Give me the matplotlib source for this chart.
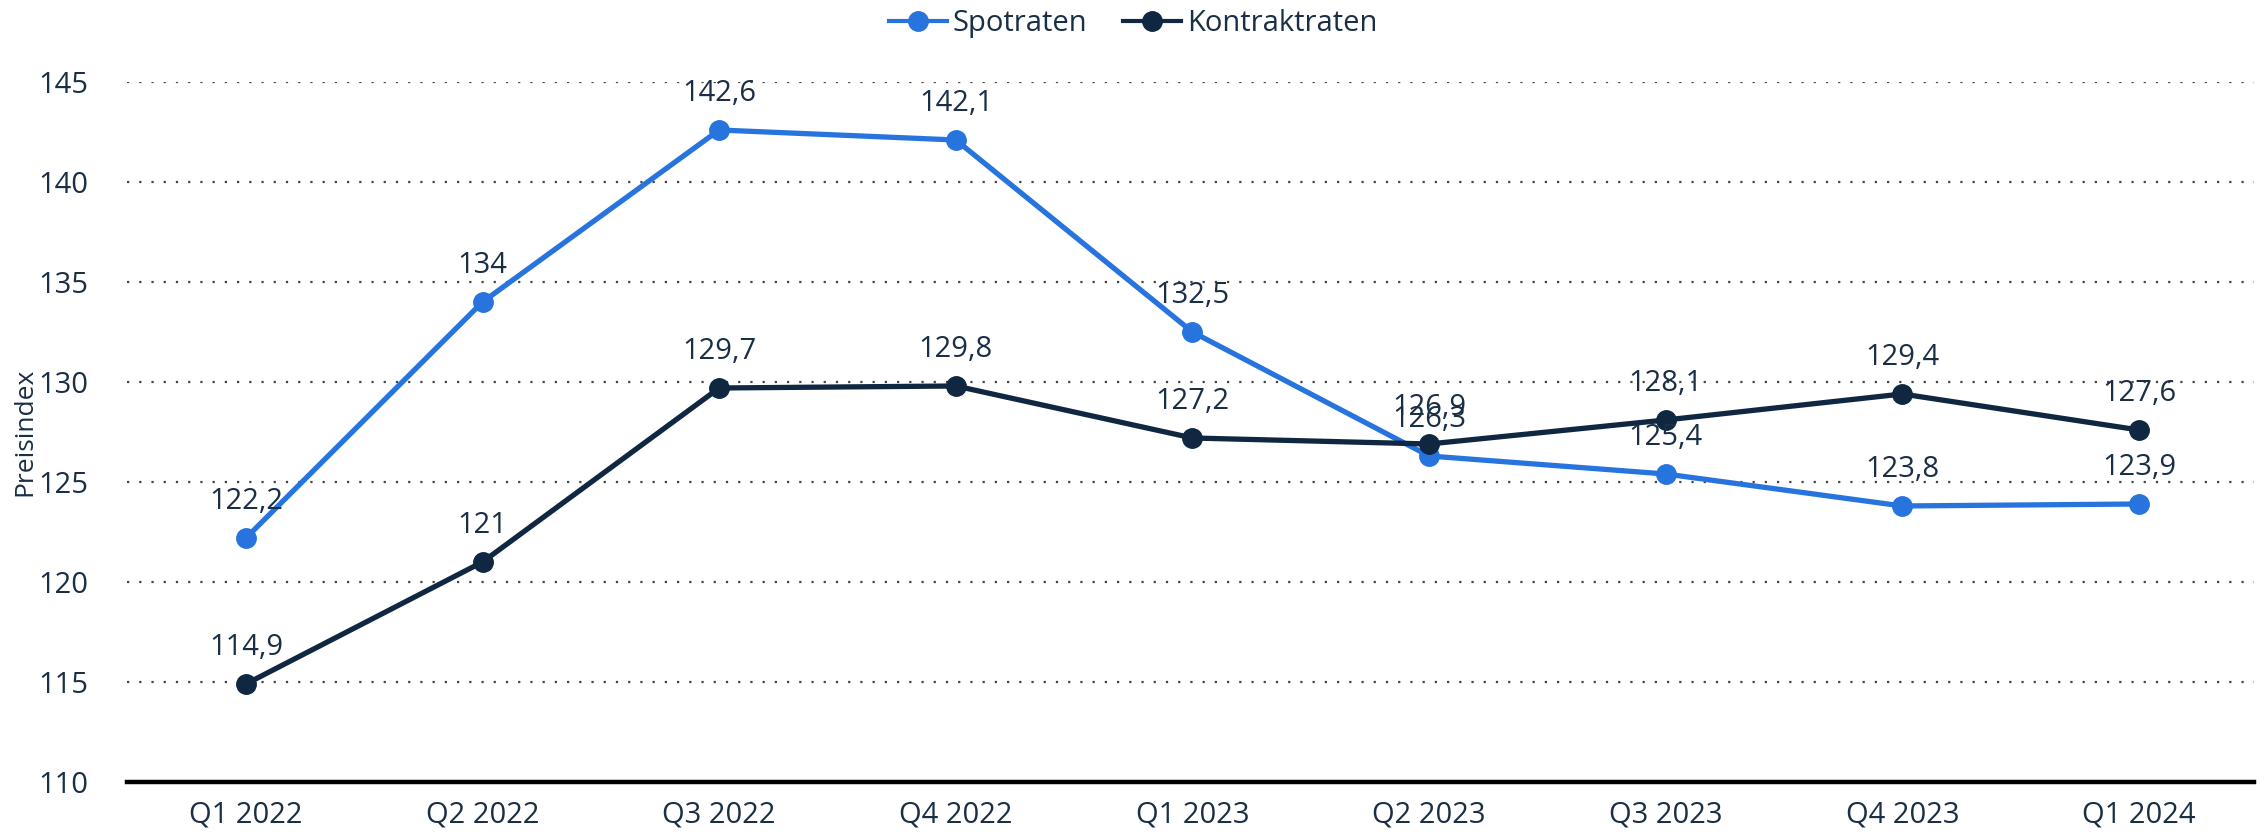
import matplotlib
matplotlib.use("Agg")
import matplotlib.pyplot as plt
from matplotlib.lines import Line2D

plt.rcParams['font.family'] = ['Open Sans', 'DejaVu Sans']

categories = ["Q1 2022", "Q2 2022", "Q3 2022", "Q4 2022", "Q1 2023",
              "Q2 2023", "Q3 2023", "Q4 2023", "Q1 2024"]
spotraten = [122.2, 134, 142.6, 142.1, 132.5, 126.3, 125.4, 123.8, 123.9]
kontraktraten = [114.9, 121, 129.7, 129.8, 127.2, 126.9, 128.1, 129.4, 127.6]
yticks = [110, 115, 120, 125, 130, 135, 140, 145]

BLUE = "#2874DE"
DARK = "#0F2741"
TEXT = "#1A2E45"

fig = plt.figure(figsize=(22.66, 8.35), dpi=100)
ax = fig.add_axes([0.056, 0.0635, 0.9387, 0.8383])

x = list(range(len(categories)))
ax.plot(x, spotraten, color=BLUE, lw=3.8, marker="o", ms=14, zorder=3, label="Spotraten")
ax.plot(x, kontraktraten, color=DARK, lw=3.8, marker="o", ms=14, zorder=4, label="Kontraktraten")

def fmt(v):
    s = f"{v:g}"
    return s.replace(".", ",")

for xs, ys in ((x, spotraten), (x, kontraktraten)):
    for xi, yi in zip(xs, ys):
        ax.annotate(fmt(yi), (xi, yi), xytext=(0, 26), textcoords="offset points",
                    ha="center", va="center", fontsize=21, color=TEXT, zorder=5)

ax.set_xlim(-0.503, 8.486)
ax.set_ylim(110, 145)
ax.set_yticks(yticks)
ax.set_xticks(x)
ax.set_xticklabels(categories)
ax.tick_params(axis="both", length=0, labelsize=21, colors=TEXT)
ax.tick_params(axis="x", pad=13)
ax.tick_params(axis="y", pad=28)

ax.grid(axis="y", linestyle=(0, (1, 4.5)), color="#444444", lw=1.6)
ax.set_axisbelow(True)
for s in ("top", "right", "left"):
    ax.spines[s].set_visible(False)
ax.spines["bottom"].set_linewidth(3.2)
ax.spines["bottom"].set_color("black")
ax.spines["bottom"].set_zorder(2)

ax.set_ylabel("Preisindex", fontsize=19, color=TEXT)
ax.yaxis.set_label_coords(-0.042, 0.5)

leg = fig.legend(handles=[
    Line2D([], [], color=BLUE, lw=3.0, marker="o", ms=14),
    Line2D([], [], color=DARK, lw=3.0, marker="o", ms=14)],
    labels=["Spotraten", "Kontraktraten"],
    loc="center", bbox_to_anchor=(0.5, 0.972), ncol=2, frameon=False,
    fontsize=21, handlelength=2.0, handletextpad=0.2, columnspacing=1.2)
for t in leg.get_texts():
    t.set_color(TEXT)

fig.savefig("out.png", dpi=100)
